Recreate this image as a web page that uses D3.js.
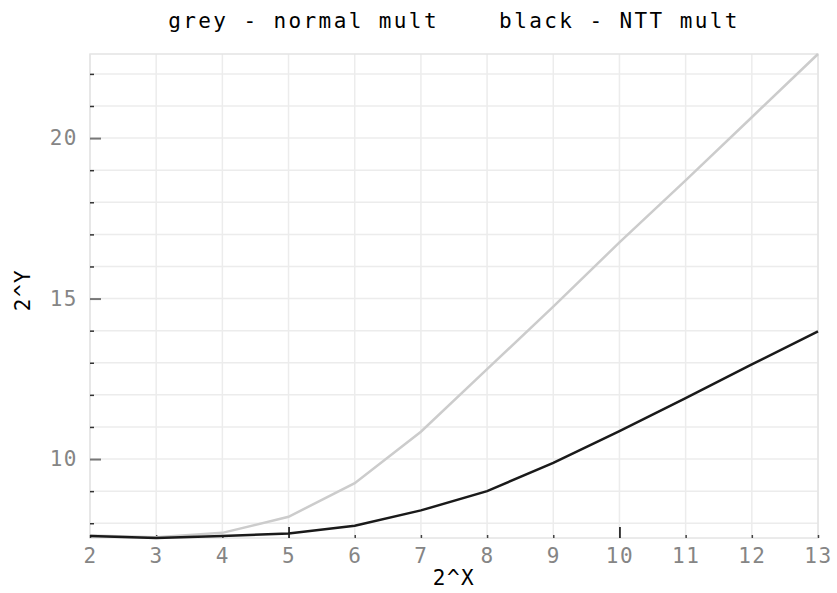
<!DOCTYPE html>
<html>
<head>
<meta charset="utf-8">
<script src="https://cdn.jsdelivr.net/npm/d3@7"></script>
<style>
  body { margin: 0; background: #fff; }
  text { font-family: "DejaVu Sans Mono", "Liberation Mono", monospace; }
</style>
</head>
<body>
<div id="chart"></div>
<script>
// size of the picture
var chart_width = 837;
var chart_height = 593;
var margin = { top: 54, right: 19, bottom: 55, left: 90 };

// data (log2 of size vs log2 of time)
var xs = [2, 3, 4, 5, 6, 7, 8, 9, 10, 11, 12, 13];
var normal_mult = [7.62, 7.56, 7.7, 8.2, 9.25, 10.85, 12.8, 14.75, 16.75, 18.68, 20.65, 22.62];
var ntt_mult = [7.6, 7.54, 7.6, 7.68, 7.92, 8.4, 9.0, 9.88, 10.87, 11.9, 12.95, 13.98];
var y_labels = [10, 15, 20];
var title = "grey - normal mult    black - NTT mult";

var w = chart_width - margin.left - margin.right;
var h = chart_height - margin.top - margin.bottom;

var x = d3.scaleLinear().domain(d3.extent(xs)).range([0, w]);
var y = d3.scaleLinear()
          .domain(d3.extent(normal_mult.concat(ntt_mult)))
          .range([h, 0]);

var svg = d3.select('#chart')
            .append('svg')
            .attr('width', chart_width)
            .attr('height', chart_height);

var g = svg.append('g')
           .attr('transform', 'translate(' + margin.left + ',' + margin.top + ')');

var yInts = d3.range(Math.ceil(y.domain()[0]), Math.floor(y.domain()[1]) + 1);

// grid
g.append('g')
 .selectAll('line.vg')
 .data(xs)
 .enter()
 .append('line')
 .attr('x1', function(d){ return x(d); })
 .attr('x2', function(d){ return x(d); })
 .attr('y1', 0)
 .attr('y2', h)
 .attr('stroke', '#ececec')
 .attr('stroke-width', 1.5);

g.append('g')
 .selectAll('line.hg')
 .data(yInts)
 .enter()
 .append('line')
 .attr('x1', 0)
 .attr('x2', w)
 .attr('y1', function(d){ return y(d); })
 .attr('y2', function(d){ return y(d); })
 .attr('stroke', '#ececec')
 .attr('stroke-width', 1.5);

// frame
g.append('rect')
 .attr('x', 0).attr('y', 0)
 .attr('width', w).attr('height', h)
 .attr('fill', 'none')
 .attr('stroke', '#e4e4e4')
 .attr('stroke-width', 1.5);

// x axis
var xAxis = g.append('g')
             .attr('transform', 'translate(0,' + h + ')')
             .call(d3.axisBottom(x).tickValues(xs).tickSize(0).tickPadding(10).tickFormat(d3.format('d')));
xAxis.select('.domain').remove();
xAxis.selectAll('.tick line')
     .attr('y2', function(d){ return d % 5 === 0 ? -11 : -3; })
     .attr('stroke', function(d){ return d % 5 === 0 ? '#000' : '#444'; })
     .attr('stroke-width', 1.5);
xAxis.selectAll('text')
     .attr('fill', '#858585')
     .attr('font-size', '21px')
     .attr('font-family', '"DejaVu Sans Mono", monospace')
     .style('letter-spacing', '1.5px');

// y axis
var yAxis = g.append('g')
             .call(d3.axisLeft(y).tickValues(yInts).tickSize(0).tickPadding(12)
                   .tickFormat(function(d){ return y_labels.indexOf(d) >= 0 ? d : ''; }));
yAxis.select('.domain').remove();
yAxis.selectAll('.tick line')
     .attr('x2', function(d){ return y_labels.indexOf(d) >= 0 ? 11 : 4; })
     .attr('stroke', function(d){ return y_labels.indexOf(d) >= 0 ? '#777' : '#333'; })
     .attr('stroke-width', function(d){ return y_labels.indexOf(d) >= 0 ? 2 : 1.5; });
yAxis.selectAll('text')
     .attr('fill', '#858585')
     .attr('font-size', '21px')
     .attr('font-family', '"DejaVu Sans Mono", monospace')
     .style('letter-spacing', '1.5px');

// lines
var line = d3.line()
             .x(function(d){ return x(d[0]); })
             .y(function(d){ return y(d[1]); });

g.append('path')
 .datum(d3.zip(xs, normal_mult))
 .attr('d', line)
 .attr('fill', 'none')
 .attr('stroke', '#cccccc')
 .attr('stroke-width', 2.5);

g.append('path')
 .datum(d3.zip(xs, ntt_mult))
 .attr('d', line)
 .attr('fill', 'none')
 .attr('stroke', '#1a1a1a')
 .attr('stroke-width', 2.5);

// title and axis names
svg.append('text')
   .attr('x', margin.left + w / 2)
   .attr('y', 28)
   .attr('text-anchor', 'middle')
   .attr('font-size', '21px')
   .attr('fill', '#000')
   .style('letter-spacing', '2.4px')
   .style('white-space', 'pre')
   .text(title);

svg.append('text')
   .attr('x', margin.left + w / 2)
   .attr('y', 585)
   .attr('text-anchor', 'middle')
   .attr('font-size', '21px')
   .attr('fill', '#000')
   .style('letter-spacing', '1.5px')
   .text('2^X');

svg.append('text')
   .attr('transform', 'translate(30,290) rotate(-90)')
   .attr('text-anchor', 'middle')
   .attr('font-size', '21px')
   .attr('fill', '#000')
   .style('letter-spacing', '1.5px')
   .text('2^Y');
</script>
</body>
</html>
